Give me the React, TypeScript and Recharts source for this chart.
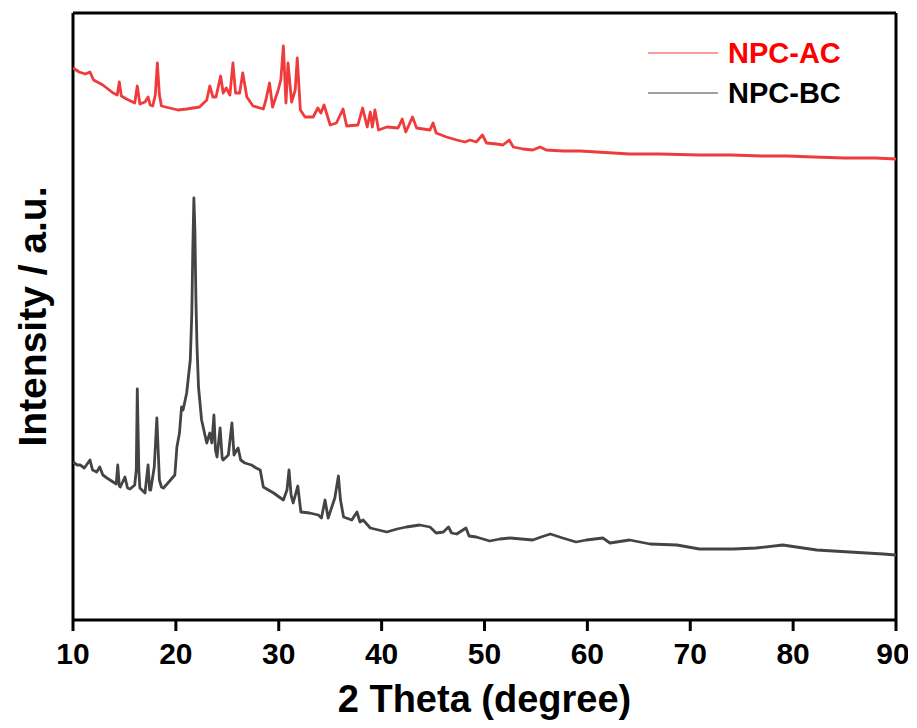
import React from "react";
import { LineChart, Line, XAxis, YAxis, Legend, ReferenceLine } from "recharts";

// 2θ positions (degree) and intensities (a.u.)
const acTheta = [10.0, 10.6, 11.2, 11.65, 12.0, 12.9, 13.9, 14.3, 14.5, 14.7, 15.2, 16.0, 16.25, 16.5, 17.0, 17.3, 17.5, 17.75, 18.0, 18.2, 18.4, 18.6, 19.4, 20.2, 21.05, 22.3, 23.0, 23.3, 23.6, 23.9, 24.35, 24.6, 24.9, 25.25, 25.55, 25.8, 26.2, 26.5, 26.9, 27.5, 28.5, 28.75, 29.1, 29.4, 29.95, 30.2, 30.45, 30.7, 30.9, 31.25, 31.6, 31.8, 32.1, 32.55, 33.35, 33.8, 34.1, 34.4, 35.0, 35.6, 36.25, 36.6, 37.7, 38.15, 38.6, 38.9, 39.1, 39.35, 39.7, 40.5, 41.6, 42.0, 42.35, 43.0, 43.4, 44.7, 45.0, 45.3, 46.3, 47.3, 48.1, 48.6, 49.2, 49.8, 50.2, 51.2, 51.8, 52.4, 52.8, 53.75, 54.7, 55.4, 56.0, 57.65, 59.3, 60.9, 62.5, 64.1, 67.0, 70.9, 74.0, 77.0, 79.4, 82.0, 85.0, 88.0, 90.0];
const acIntensity = [552, 548, 546, 548, 540, 535, 527, 525, 538, 524, 521, 517, 534, 516, 518, 523, 515, 514, 525, 557, 525, 514, 512, 510, 511, 513, 520, 534, 523, 523, 544, 527, 532, 525, 557, 527, 527, 547, 523, 514, 511, 520, 537, 513, 530, 540, 574, 517, 557, 518, 530, 562, 510, 503, 503, 512, 507, 515, 495, 497, 511, 494, 495, 512, 493, 508, 493, 510, 490, 493, 492, 501, 488, 503, 492, 490, 497, 487, 483, 480, 478, 480, 478, 485, 477, 476, 475, 480, 473, 471, 470, 473, 470, 469, 469, 468, 467, 466, 466, 465, 465, 464, 464, 463, 462, 462, 461];

const bcTheta = [10.0, 10.4, 10.7, 11.1, 11.65, 11.9, 12.3, 12.6, 12.9, 13.3, 13.9, 14.2, 14.35, 14.5, 14.6, 15.05, 15.3, 15.55, 16.0, 16.15, 16.25, 16.4, 16.5, 17.0, 17.3, 17.45, 17.55, 17.9, 18.15, 18.4, 18.6, 18.8, 19.4, 19.9, 20.1, 20.35, 20.55, 20.7, 21.05, 21.4, 21.55, 21.65, 21.75, 21.85, 21.95, 22.05, 22.2, 22.5, 23.0, 23.3, 23.5, 23.7, 23.85, 24.0, 24.3, 24.5, 24.6, 25.1, 25.45, 25.65, 25.9, 26.05, 26.3, 26.7, 27.35, 27.8, 28.2, 28.5, 29.5, 30.45, 30.8, 31.0, 31.2, 31.4, 31.85, 32.15, 33.0, 33.85, 34.15, 34.5, 34.8, 35.45, 35.8, 36.0, 36.3, 37.1, 37.6, 37.9, 38.2, 38.9, 40.5, 41.5, 42.4, 43.7, 44.7, 45.3, 46.0, 46.5, 46.8, 47.3, 48.2, 48.5, 49.2, 50.5, 51.5, 52.5, 54.7, 55.5, 56.4, 57.6, 58.9, 59.9, 61.5, 62.2, 64.1, 66.1, 68.7, 70.9, 74.2, 76.4, 79.0, 80.3, 82.3, 85.5, 88.75, 90.0];
const bcIntensity = [158, 155, 155, 152, 160, 150, 148, 153, 145, 142, 138, 136, 155, 134, 133, 143, 132, 131, 135, 150, 231, 150, 132, 127, 155, 130, 130, 153, 202, 140, 133, 132, 139, 145, 173, 187, 213, 210, 227, 260, 307, 373, 422, 390, 320, 275, 233, 200, 177, 187, 177, 205, 170, 163, 192, 162, 160, 165, 197, 165, 170, 172, 160, 157, 155, 152, 150, 133, 127, 120, 130, 150, 125, 117, 134, 108, 107, 105, 102, 120, 102, 122, 144, 120, 103, 100, 108, 98, 100, 92, 88, 91, 93, 95, 93, 87, 88, 93, 87, 86, 92, 84, 83, 79, 81, 82, 80, 83, 86, 82, 78, 80, 82, 77, 80, 76, 75, 71, 71, 72, 75, 73, 70, 68, 66, 65];

const xTicks = [10, 20, 30, 40, 50, 60, 70, 80, 90];
const xDomain = [10, 90];
const yDomain = [0, 607];
const seriesNames = ["NPC-AC", "NPC-BC"];
const seriesColors = ["#ef3b3b", "#444444"];
const legendTextColors = ["#ff0000", "#000000"];

const acData = acTheta.map((x, i) => ({ x, y: acIntensity[i] }));
const bcData = bcTheta.map((x, i) => ({ x, y: bcIntensity[i] }));

const FONT = '"Liberation Sans", Arial, Helvetica, sans-serif';

const LegendBox = () => (
  <div style={{ fontFamily: FONT }}>
    {seriesNames.map((n, i) => (
      <div key={n} style={{ display: "flex", alignItems: "center", height: 40 }}>
        <svg width={72} height={4} style={{ display: "block" }}>
          <line x1={0} y1={2} x2={70} y2={2} stroke={seriesColors[i]} strokeWidth={1.2} />
        </svg>
        <span
          style={{
            marginLeft: 8,
            fontSize: 29,
            fontWeight: 700,
            color: legendTextColors[i],
            lineHeight: "40px",
          }}
        >
          {n}
        </span>
      </div>
    ))}
  </div>
);

const YLabel = (props: any) => {
  const vb = props.viewBox || {};
  const cx = vb.x - 41;
  const cy = vb.y + vb.height / 2;
  return (
    <text
      x={cx}
      y={cy}
      dy="0.36em"
      transform={`rotate(-90, ${cx}, ${cy})`}
      textAnchor="middle"
      fontFamily={FONT}
      fontWeight={700}
      fontSize={39}
      fill="#000"
    >
      Intensity / a.u.
    </text>
  );
};

export default function App() {
  return (
    <div style={{ width: 900, height: 712, background: "#fff" }}>
      <LineChart
        width={900}
        height={712}
        margin={{ top: 5, right: 12, left: 65, bottom: 0 }}
      >
        <XAxis
          xAxisId="b"
          dataKey="x"
          type="number"
          domain={xDomain}
          ticks={xTicks}
          allowDataOverflow
          height={100}
          axisLine={{ stroke: "#000", strokeWidth: 3 }}
          tickLine={{ stroke: "#000", strokeWidth: 3 }}
          tickSize={11}
          tickMargin={12}
          tick={{ fill: "#000", fontSize: 30, fontWeight: 700, fontFamily: FONT }}
          label={{
            value: "2 Theta (degree)",
            position: "insideBottom",
            offset: 8,
            fill: "#000",
            fontSize: 38,
            fontWeight: 700,
            fontFamily: FONT,
          }}
        />
        <XAxis
          xAxisId="t"
          dataKey="x"
          type="number"
          orientation="top"
          domain={xDomain}
          height={0}
          tick={false}
          tickLine={false}
          axisLine={{ stroke: "#000", strokeWidth: 3 }}
        />
        <YAxis
          yAxisId="l"
          type="number"
          domain={yDomain}
          width={0}
          tick={false}
          tickLine={false}
          axisLine={{ stroke: "#000", strokeWidth: 3 }}
        />
        <YAxis
          yAxisId="r"
          orientation="right"
          type="number"
          domain={yDomain}
          width={0}
          tick={false}
          tickLine={false}
          axisLine={{ stroke: "#000", strokeWidth: 3 }}
        />
        <ReferenceLine
          xAxisId="b"
          yAxisId="l"
          segment={[
            { x: xDomain[0], y: yDomain[0] },
            { x: xDomain[0], y: yDomain[1] },
          ]}
          stroke="#000"
          strokeWidth={3}
          ifOverflow="visible"
          label={<YLabel />}
        />
        <ReferenceLine
          xAxisId="b"
          yAxisId="l"
          segment={[
            { x: xDomain[1], y: yDomain[0] },
            { x: xDomain[1], y: yDomain[1] },
          ]}
          stroke="#000"
          strokeWidth={3}
          ifOverflow="visible"
        />
        <ReferenceLine
          xAxisId="b"
          yAxisId="l"
          segment={[
            { x: xDomain[0], y: yDomain[1] },
            { x: xDomain[1], y: yDomain[1] },
          ]}
          stroke="#000"
          strokeWidth={3}
          ifOverflow="visible"
        />
        <Legend
          layout="vertical"
          align="center"
          verticalAlign="middle"
          content={<LegendBox />}
          wrapperStyle={{ top: 25, left: 640, width: 220, height: 80 }}
        />
        <Line
          xAxisId="b"
          yAxisId="l"
          data={acData}
          dataKey="y"
          name={seriesNames[0]}
          stroke={seriesColors[0]}
          strokeWidth={2.8}
          dot={false}
          isAnimationActive={false}
          strokeLinejoin="round"
        />
        <Line
          xAxisId="b"
          yAxisId="l"
          data={bcData}
          dataKey="y"
          name={seriesNames[1]}
          stroke={seriesColors[1]}
          strokeWidth={2.8}
          dot={false}
          isAnimationActive={false}
          strokeLinejoin="round"
        />
      </LineChart>
    </div>
  );
}
